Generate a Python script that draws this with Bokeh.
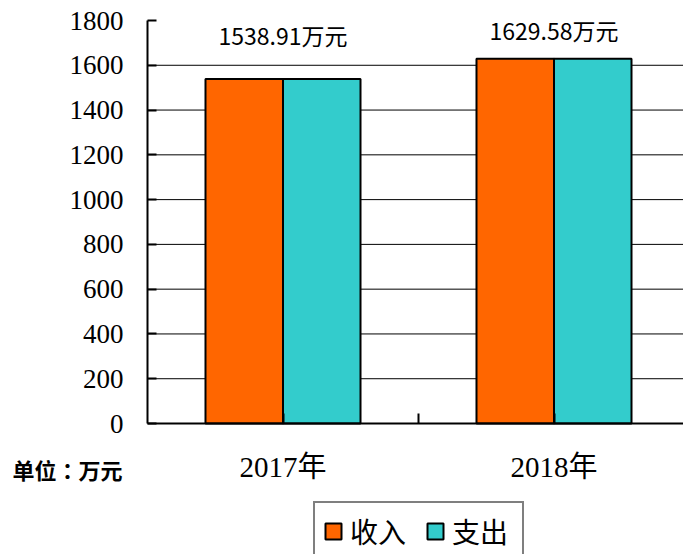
from bokeh.plotting import figure
from bokeh.models import (Range1d, FixedTicker, Legend, LegendItem, ColumnDataSource,
                          LabelSet, Label)
from bokeh.core.properties import value
from bokeh.embed import file_html
from bokeh.resources import INLINE

# ---- data ----
years = ["2017年", "2018年"]
income = [1538.91, 1629.58]
expense = [1538.91, 1629.58]
total_labels = ["1538.91万元", "1629.58万元"]
series_names = ["收入", "支出"]
y_ticks = [0, 200, 400, 600, 800, 1000, 1200, 1400, 1600, 1800]
unit_text = "单位：万元"

# ---- style / layout (pixels) ----
colors = ["#FF6600", "#33CCCC"]
W, H = 683, 554
AXIS_X_PX = 147      # page x of the value axis
TOP_PX = 20          # page y of the top tick
ZERO_PX = 423        # page y of the zero line
CAT_PX = 271         # width of one category in pixels
bar_w = 0.286
label_dy = [44, 29]

ppu = (ZERO_PX - TOP_PX) / (y_ticks[-1] - y_ticks[0])
x_start = -AXIS_X_PX / CAT_PX
x_end = (W - AXIS_X_PX) / CAT_PX
y_end = y_ticks[-1] + TOP_PX / ppu
y_start = y_ticks[0] - (H - ZERO_PX) / ppu

centers = [i + 0.5 for i in range(len(years))]

p = figure(width=W, height=H, output_backend="svg", toolbar_location=None,
           x_range=Range1d(x_start, x_end), y_range=Range1d(y_start, y_end),
           min_border=0)
p.outline_line_color = None
p.background_fill_color = "white"
p.border_fill_color = "white"
p.xgrid.visible = False
p.ygrid.visible = False

# horizontal grid lines (from the axis to the right edge)
grid_y = y_ticks[1:-1]
p.segment(x0=[0] * len(grid_y), x1=[x_end] * len(grid_y), y0=grid_y, y1=grid_y,
          line_color="black", line_width=1)

src = ColumnDataSource(dict(
    x=centers,
    top=[max(a, b) for a, b in zip(income, expense)],
    text=total_labels, dy=label_dy))

r1 = p.vbar(x=[c - bar_w / 2 for c in centers], top=income, bottom=0, width=bar_w,
            fill_color=colors[0], line_color="black", line_width=2)
r2 = p.vbar(x=[c + bar_w / 2 for c in centers], top=expense, bottom=0, width=bar_w,
            fill_color=colors[1], line_color="black", line_width=2)

# y axis drawn at x = 0
ya = p.yaxis[0]
ya.fixed_location = 0
ya.bounds = (y_ticks[0], y_ticks[-1])
ya.ticker = FixedTicker(ticks=y_ticks)
ya.axis_line_color = "black"
ya.axis_line_width = 2
ya.major_tick_line_color = "black"
ya.major_tick_line_width = 2
ya.major_tick_in = 9
ya.major_tick_out = 0
ya.minor_tick_line_color = None
ya.major_label_standoff = 24
ya.major_label_text_font = "Liberation Serif"
ya.major_label_text_font_size = "27px"
ya.major_label_text_color = "black"

# x axis drawn at y = 0: tick at category boundary, labels at category centres
xa = p.xaxis[0]
xa.fixed_location = 0
xa.bounds = (0, x_end)
bounds = [float(i) for i in range(1, len(years))]
xa.ticker = FixedTicker(ticks=centers + bounds)
overrides = {c: y for c, y in zip(centers, years)}
overrides.update({b: "" for b in bounds})
xa.major_label_overrides = overrides
xa.axis_line_color = "black"
xa.axis_line_width = 2
xa.major_tick_line_color = "black"
xa.major_tick_line_width = 2
xa.major_tick_in = 10
xa.major_tick_out = 0
xa.minor_tick_line_color = None
xa.major_label_standoff = 27
xa.major_label_text_font = "Liberation Serif, Noto Sans CJK SC"
xa.major_label_text_font_size = "29px"
xa.major_label_text_color = "black"

# value labels above bars
labels = LabelSet(x="x", y="top", text="text", source=src, y_offset="dy",
                  text_align="center", text_baseline="middle",
                  text_font=value("Noto Sans CJK SC"), text_font_size=value("23px"),
                  text_color="black")
p.add_layout(labels)

# unit label
p.add_layout(Label(x=0, y=0, x_offset=-135, y_offset=-45, text=unit_text,
                   text_align="left", text_baseline="middle",
                   text_font="Noto Sans CJK TC", text_font_size="22px",
                   text_font_style="bold", text_color="black"))

legend = Legend(items=[LegendItem(label=series_names[0], renderers=[r1]),
                       LegendItem(label=series_names[1], renderers=[r2])],
                orientation="horizontal", location=(313, -7),
                border_line_color="black", border_line_width=2,
                background_fill_color="white", background_fill_alpha=1,
                glyph_width=20, glyph_height=20, label_standoff=7,
                label_width=62, spacing=13, padding=8, margin=0,
                label_text_font="Noto Sans CJK SC", label_text_font_size="28px",
                label_text_color="black")
p.add_layout(legend)

open("out.html", "w").write(file_html(p, INLINE))
